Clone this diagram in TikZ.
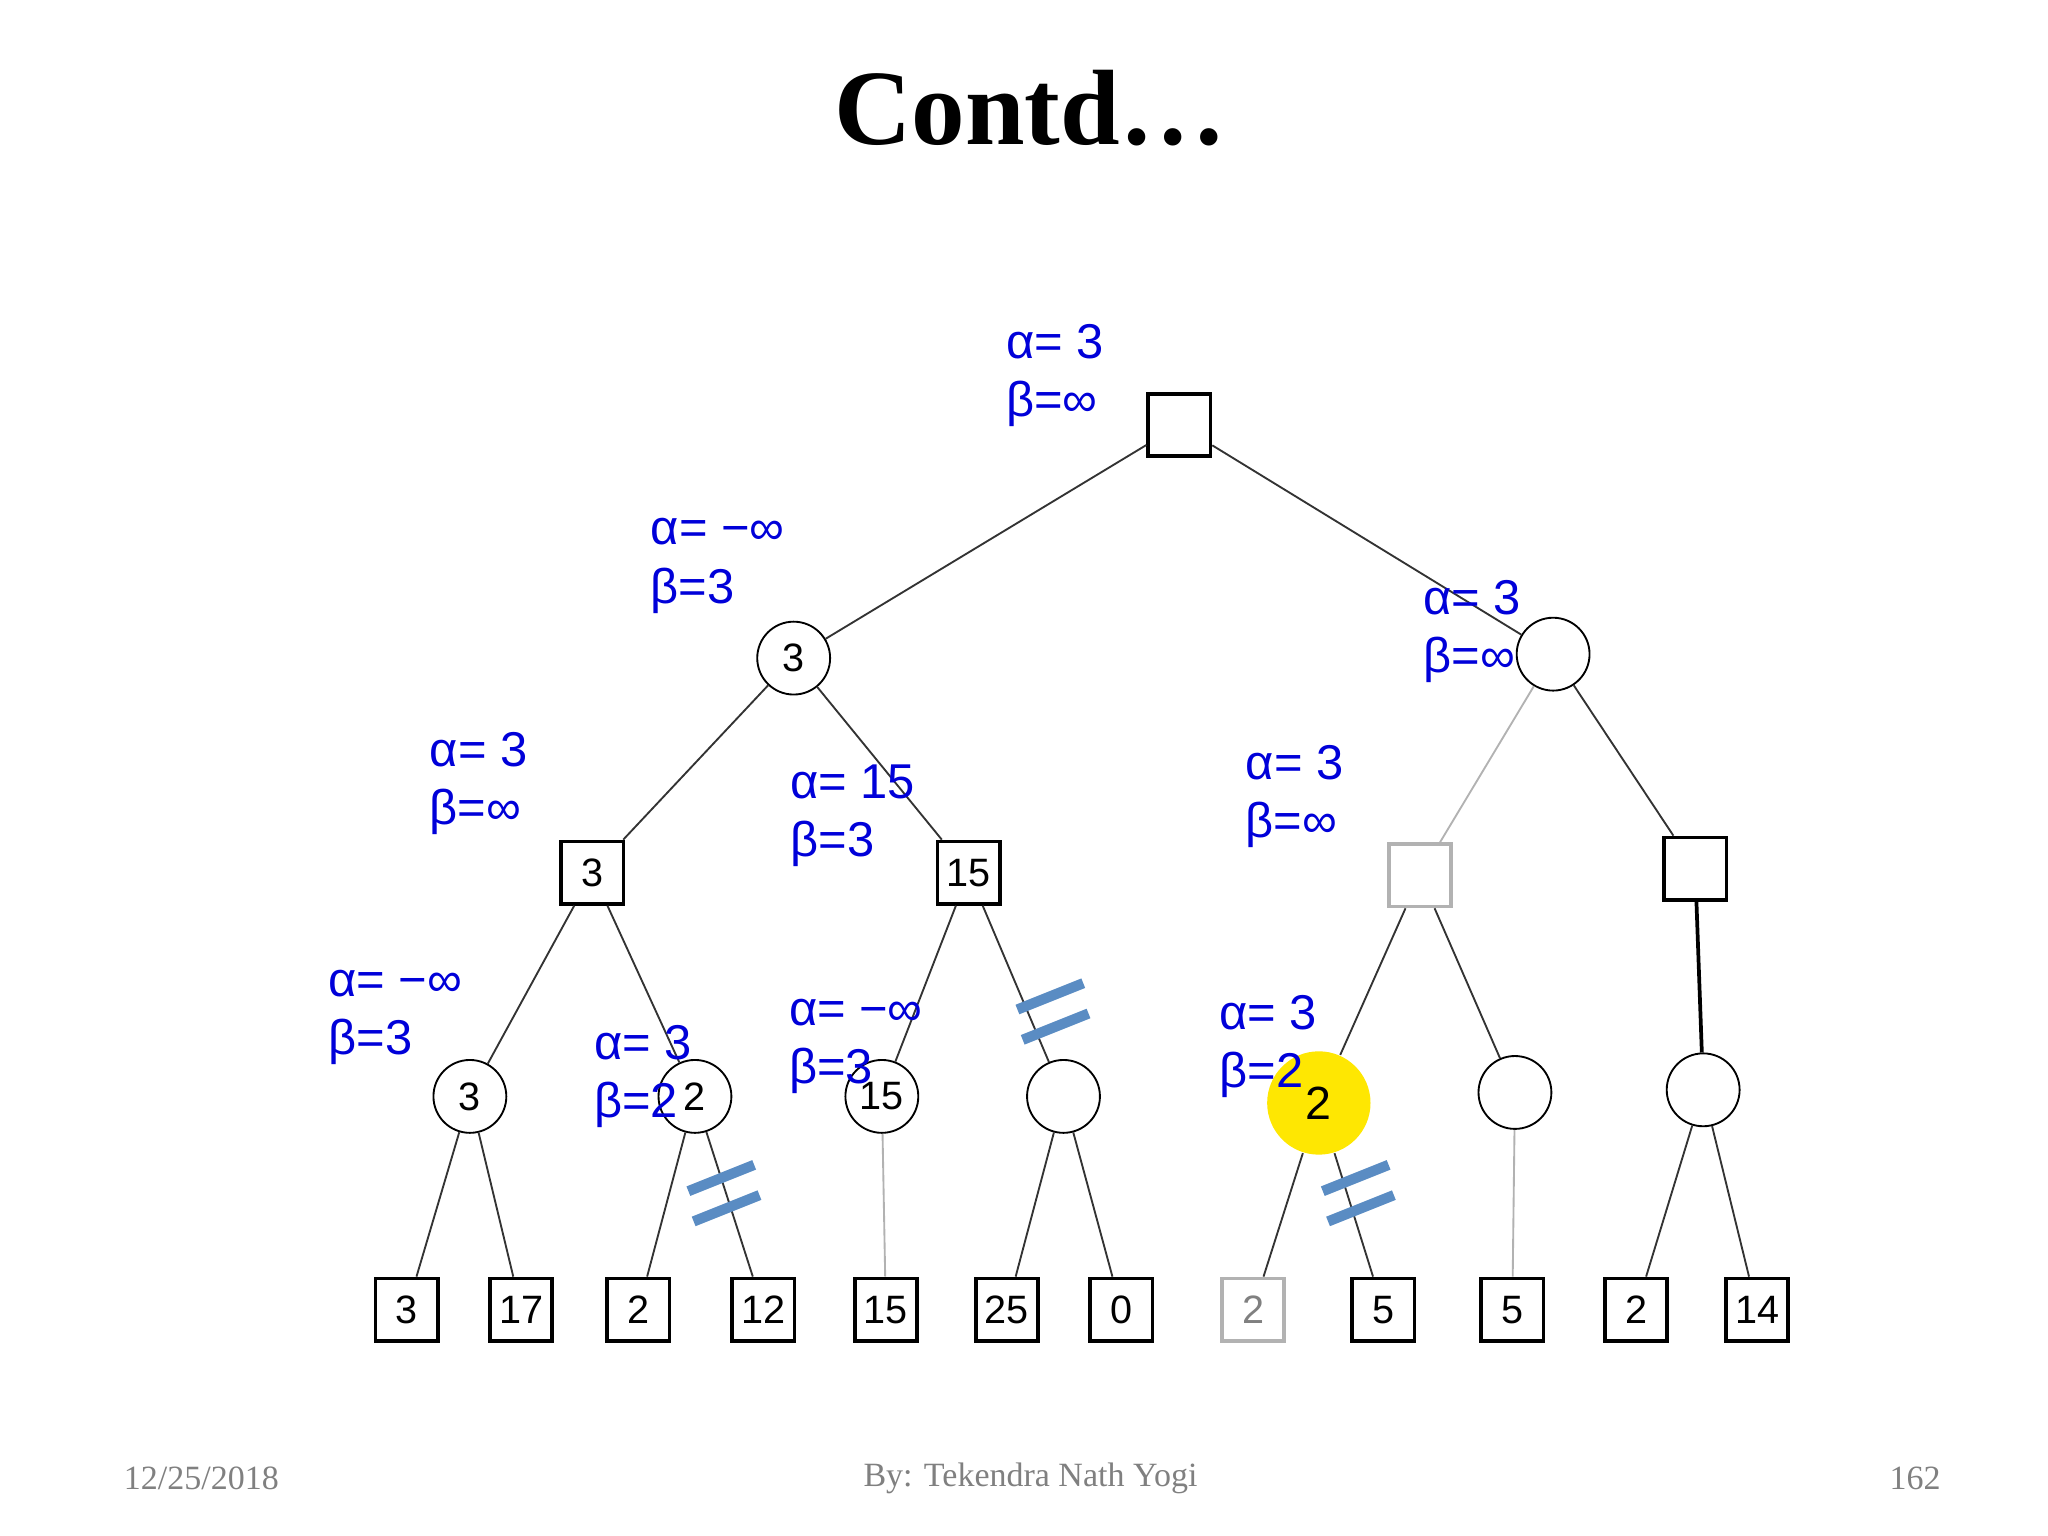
\documentclass[tikz,border=0pt]{standalone}
\usepackage{fontspec}
\setmainfont{Liberation Serif}
\newfontfamily\lab{Liberation Sans}
\definecolor{cutc}{RGB}{90,140,195}
\begin{document}
\begin{tikzpicture}[x=0.00993cm,y=-0.00993cm,
 sq/.style={draw,thick,minimum size=0.47cm,inner sep=0pt,font=\lab\fontsize{8.5}{9}\selectfont},
 gsq/.style={sq,draw=gray!60,text=gray},
 ci/.style={draw,circle,minimum size=0.55cm,inner sep=0pt,font=\lab\fontsize{8.5}{9}\selectfont},
 ed/.style={draw=black!80,thin},
 ged/.style={draw=gray!60,thin},
 ab/.style={text=blue!85!black,font=\lab\fontsize{10.5}{12.5}\selectfont,anchor=west,align=left},
 cut/.style={draw=cutc,line width=2.2pt}]
\useasboundingbox (0,0) rectangle (1556,1167);
\node[font=\bfseries\fontsize{23}{23}\selectfont] (t) at (783,82) {Contd…};
\node[font=\fontsize{7.3}{8}\selectfont,text=gray] (d) at (153,1123) {12/25/2018};
\node[font=\fontsize{7.3}{8}\selectfont,text=gray] (b) at (783,1123) {By: Tekendra Nath Yogi};
\node[font=\fontsize{7.3}{8}\selectfont,text=gray] (p) at (1455,1123) {162};
% nodes
\node[sq] (r) at (896,323) {};
\node[ci] (A) at (603,500) {3};
\node[ci] (B) at (1180,497) {};
\node[sq] (s1) at (450,663) {3};
\node[sq] (s2) at (736,663) {15};
\node[gsq] (s3) at (1079,665) {};
\node[sq] (s4) at (1288,660) {};
\node[ci] (c1) at (357,833) {3};
\node[ci] (c2) at (528,833) {2};
\node[ci] (c3) at (670,833) {15};
\node[ci] (c4) at (808,833) {};
\node[circle,fill=yellow!90!orange,minimum size=0.78cm,inner sep=0pt,font=\lab\fontsize{10}{10}\selectfont] (c5) at (1002,838) {2};
\node[ci] (c6) at (1151,830) {};
\node[ci] (c7) at (1294,828) {};
\foreach \n/\x/\t/\s in {l1/309/3/sq,l2/396/17/sq,l3/485/2/sq,l4/580/12/sq,l5/673/15/sq,l6/765/25/sq,l7/852/0/sq,l8/952/2/gsq,l9/1051/5/sq,l10/1149/5/sq,l11/1243/2/sq,l12/1335/14/sq}
  \node[\s] (\n) at (\x,995) {\t};
% edges
\draw[ed] (r) -- (A); \draw[ed] (r) -- (B);
\draw[ed] (A) -- (s1); \draw[ed] (A) -- (s2);
\draw[ged] (B) -- (s3); \draw[ed] (B) -- (s4);
\draw[ed] (s1) -- (c1); \draw[ed] (s1) -- (c2);
\draw[ed] (s2) -- (c3); \draw[ed] (s2) -- (c4);
\draw[ed] (s3) -- (c5); \draw[ed] (s3) -- (c6);
\draw[thick] (s4) -- (c7);
\draw[ed] (c1) -- (l1); \draw[ed] (c1) -- (l2);
\draw[ed] (c2) -- (l3); \draw[ed] (c2) -- (l4);
\draw[ged] (c3) -- (l5);
\draw[ed] (c4) -- (l6); \draw[ed] (c4) -- (l7);
\draw[ed] (c5) -- (l8); \draw[ed] (c5) -- (l9);
\draw[ged] (c6) -- (l10);
\draw[ed] (c7) -- (l11); \draw[ed] (c7) -- (l12);
% cuts
\foreach \x/\y in {800/770,550/908,1032/908}{
 \draw[cut] (\x-27,\y-3) -- (\x+23,\y-23);
 \draw[cut] (\x-23,\y+20) -- (\x+27,\y);}
% labels
\node[ab] (a1) at (752,285) {α= 3\\β=∞};
\node[ab] (a2) at (482,430) {α= −∞\\β=3};
\node[ab] (a3) at (1069,480) {α= 3\\β=∞};
\node[ab] (a4) at (314,595) {α= 3\\β=∞};
\node[ab] (a5) at (588,620) {α= 15\\β=3};
\node[ab] (a6) at (934,605) {α= 3\\β=∞};
\node[ab] (a7) at (237,773) {α= −∞\\β=3};
\node[ab] (a8) at (439,818) {α= 3\\β=2};
\node[ab] (a9) at (587,795) {α= −∞\\β=3};
\node[ab] (a10) at (914,795) {α= 3\\β=2};
\end{tikzpicture}
\end{document}
